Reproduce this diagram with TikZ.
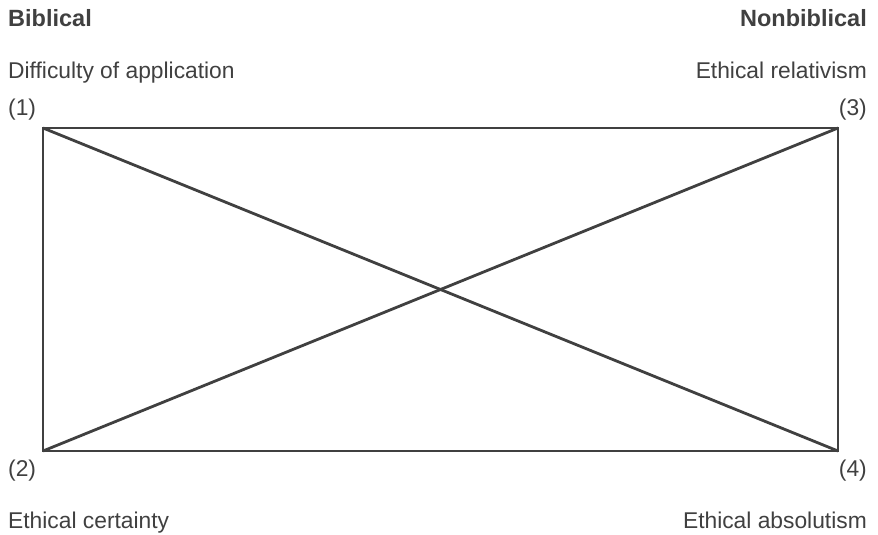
\documentclass[tikz,border=0pt]{standalone}
\usepackage{fontspec}
\setmainfont{Liberation Sans}
\definecolor{ink}{HTML}{404040}
\begin{document}
\begin{tikzpicture}[x=1pt,y=-1pt,
  lbl/.style={inner sep=0pt, text=ink, font=\fontsize{22.8}{27}\selectfont},
  edge/.style={draw=ink, line width=2.8pt}]
\useasboundingbox (0,0) rectangle (878,535);
\node[lbl, anchor=base west, font=\fontsize{23.5}{27}\selectfont\bfseries] (bib) at (8,27) {Biblical};
\node[lbl, anchor=base east, font=\fontsize{23.5}{27}\selectfont\bfseries] (nonbib) at (867,27) {Nonbiblical};
\node[lbl, anchor=base west] (diff) at (8,78) {Difficulty of application};
\node[lbl, anchor=base east] (rel) at (867,78) {Ethical relativism};
\node[lbl, anchor=base west] (n1) at (8,115) {(1)};
\node[lbl, anchor=base east] (n3) at (867,115) {(3)};
\node[lbl, anchor=base west] (n2) at (8,476) {(2)};
\node[lbl, anchor=base east] (n4) at (867,476) {(4)};
\node[lbl, anchor=base west] (cert) at (8,528) {Ethical certainty};
\node[lbl, anchor=base east] (abs) at (867,528) {Ethical absolutism};
\coordinate (c1) at (43,128);
\coordinate (c3) at (838,128);
\coordinate (c2) at (43,451);
\coordinate (c4) at (838,451);
\draw[edge, line join=miter] (c1) -- (c3) -- (c4) -- (c2) -- cycle;
\draw[edge] (c1) -- (c4);
\draw[edge] (c2) -- (c3);
\end{tikzpicture}
\end{document}
